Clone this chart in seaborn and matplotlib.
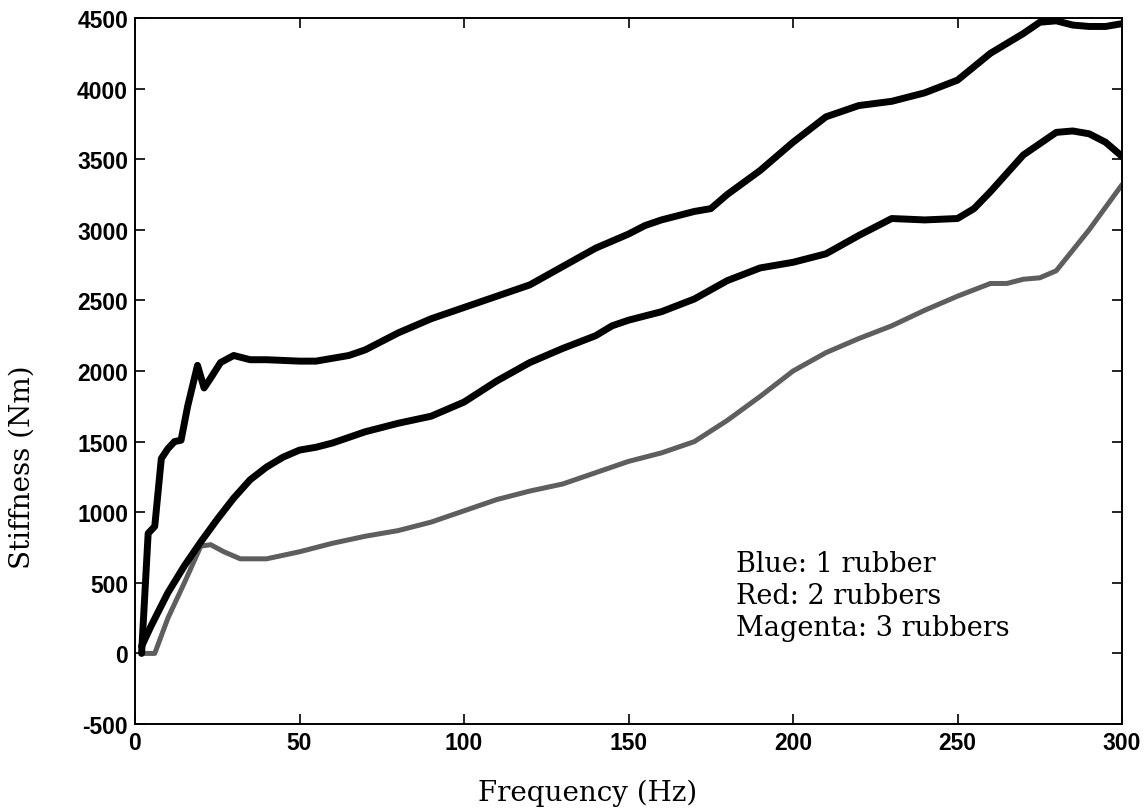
import numpy as np
import pandas as pd
import matplotlib
matplotlib.use("Agg")
import matplotlib.pyplot as plt
import seaborn as sns

# Stiffness vs frequency for 1, 2 and 3 rubber elements
freq_one = [2, 4, 6, 8, 10, 12, 14, 16, 19, 21, 23, 26, 30, 35, 40, 50, 55, 60, 65, 70,
            80, 90, 100, 110, 120, 130, 140, 150, 155, 160, 165, 170, 175, 180, 190, 200,
            210, 220, 230, 240, 250, 260, 270, 275, 280, 285, 290, 295, 300]
stiff_one = [0, 850, 900, 1380, 1450, 1500, 1510, 1750, 2040, 1880, 1950, 2060, 2110, 2080,
             2080, 2070, 2070, 2090, 2110, 2150, 2270, 2370, 2450, 2530, 2610, 2740, 2870,
             2970, 3030, 3070, 3100, 3130, 3150, 3250, 3420, 3620, 3800, 3880, 3910, 3970,
             4060, 4250, 4390, 4470, 4480, 4450, 4440, 4440, 4460]

freq_two = [2, 5, 10, 15, 20, 25, 30, 35, 40, 45, 50, 55, 60, 70, 80, 90, 100, 110, 120,
            130, 140, 145, 150, 160, 170, 180, 190, 200, 210, 220, 230, 240, 250, 255, 260,
            270, 280, 285, 290, 295, 300]
stiff_two = [50, 200, 430, 620, 790, 950, 1100, 1230, 1320, 1390, 1440, 1460, 1490, 1570,
             1630, 1680, 1780, 1930, 2060, 2160, 2250, 2320, 2360, 2420, 2510, 2640, 2730,
             2770, 2830, 2960, 3080, 3070, 3080, 3150, 3270, 3530, 3690, 3700, 3680, 3620,
             3520]

freq_three = [2, 6, 10, 15, 20, 23, 27, 32, 40, 50, 60, 70, 80, 90, 100, 110, 120, 130, 140,
              150, 160, 170, 180, 190, 200, 210, 220, 230, 240, 250, 260, 265, 270, 275, 280,
              290, 300]
stiff_three = [0, 0, 250, 500, 760, 770, 720, 670, 670, 720, 780, 830, 870, 930, 1010, 1090,
               1150, 1200, 1280, 1360, 1420, 1500, 1650, 1820, 2000, 2130, 2230, 2320, 2430,
               2530, 2620, 2620, 2650, 2660, 2710, 3000, 3320]

x_ticks = [0, 50, 100, 150, 200, 250, 300]
y_ticks = [-500, 0, 500, 1000, 1500, 2000, 2500, 3000, 3500, 4000, 4500]

sns.set_style("ticks")
plt.rcParams["font.family"] = ["Liberation Sans", "DejaVu Sans"]
plt.rcParams["text.color"] = "black"
plt.rcParams["axes.labelcolor"] = "black"

fig = plt.figure(figsize=(11.46, 8.12), dpi=100)
ax = fig.add_axes([0.1178, 0.1071, 0.8613, 0.8695])

df_one = pd.DataFrame({"f": freq_one, "k": stiff_one})
df_two = pd.DataFrame({"f": freq_two, "k": stiff_two})
df_three = pd.DataFrame({"f": freq_three, "k": stiff_three})

sns.lineplot(data=df_three, x="f", y="k", ax=ax, color="#5e5e5e", linewidth=3.6,
             estimator=None, sort=False)
sns.lineplot(data=df_two, x="f", y="k", ax=ax, color="black", linewidth=5.0,
             estimator=None, sort=False)
sns.lineplot(data=df_one, x="f", y="k", ax=ax, color="black", linewidth=5.0,
             estimator=None, sort=False)

ax.set_xlim(0, 300)
ax.set_ylim(-500, 4500)
ax.set_xticks(x_ticks)
ax.set_yticks(y_ticks)
ax.set_xticklabels([str(v) for v in x_ticks], fontsize=16.5, fontweight="bold")
ax.set_yticklabels([str(v) for v in y_ticks], fontsize=16.5, fontweight="bold")
ax.tick_params(direction="in", length=7, width=1.2, top=True, right=True, pad=5,
               colors="black")
for side in ax.spines.values():
    side.set_visible(True)
    side.set_linewidth(1.4)
    side.set_color("black")

serif = ["DejaVu Serif", "Liberation Serif"]
ax.set_xlabel("Frequency (Hz)", fontsize=20, family=serif)
ax.set_ylabel("Stiffness (Nm)", fontsize=20, family=serif)
ax.xaxis.set_label_coords(0.459, -0.077)
ax.yaxis.set_label_coords(-0.101, 0.365)

ax.text(0.609, 0.246, "Blue: 1 rubber\nRed: 2 rubbers\nMagenta: 3 rubbers",
        transform=ax.transAxes, ha="left", va="top", fontsize=19.5,
        family=serif, linespacing=1.22)

fig.savefig("out.png", dpi=100, facecolor="white")
